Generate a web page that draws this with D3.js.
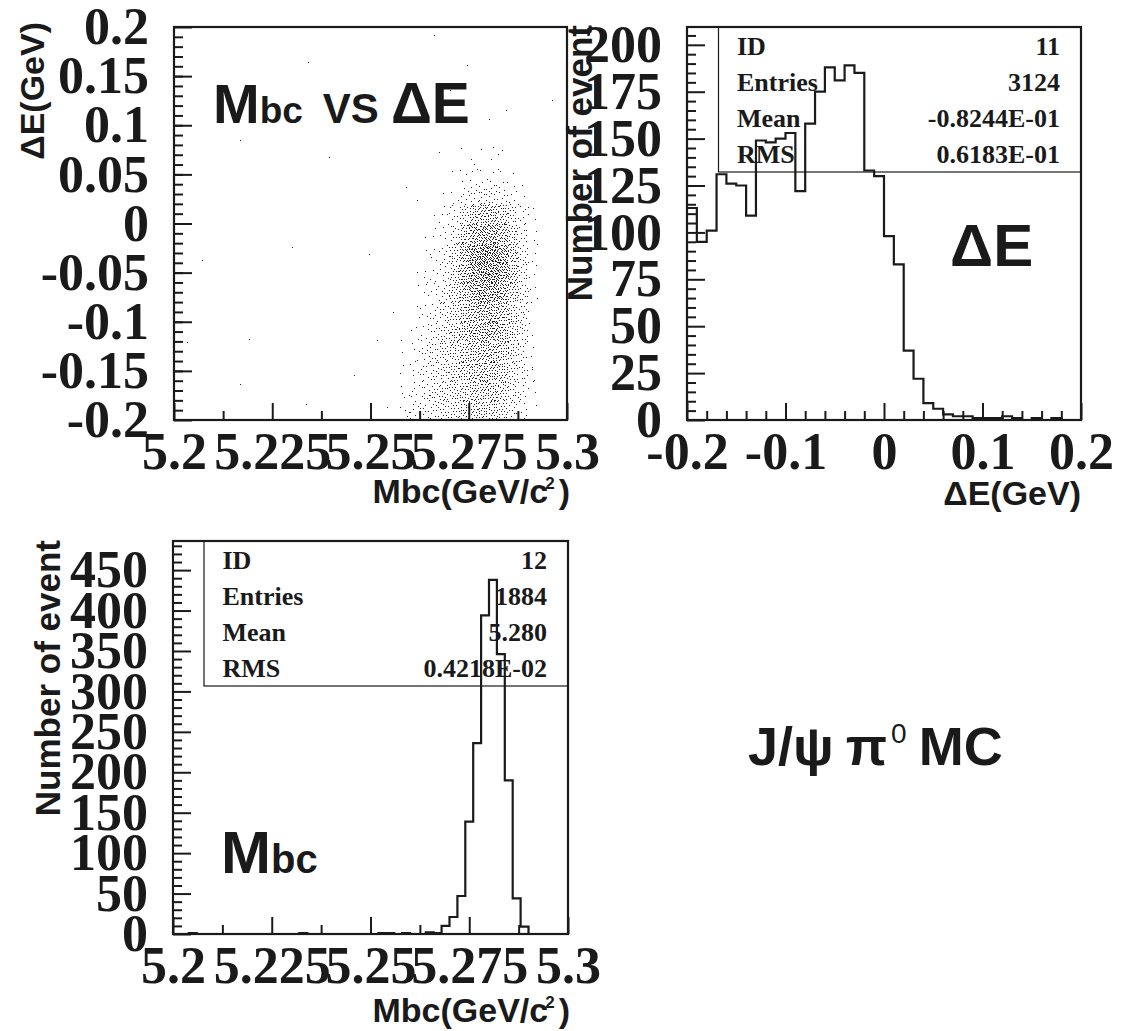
<!DOCTYPE html>
<html>
<head>
<script src="https://cdn.jsdelivr.net/npm/d3@7"></script>
<style>
  body { margin: 0; background: #fff; }
  svg { display: block; }
</style>
</head>
<body>
<div id="chart"></div>
<script>
// ---- data ----

// Delta E histogram, 40 bins of 0.01 from -0.2
var deBinStart = -0.2, deBinWidth = 0.01;
var deCounts = [113, 95, 101, 131, 126, 125, 109, 149, 148, 150,
                153, 122, 158, 175, 188, 181, 189, 185, 133, 130,
                98, 83, 37, 22, 9, 6, 3, 2, 2, 1,
                1, 1, 2, 1, 0, 1, 0, 1, 0, 0];
var deStats = ["11", "3124", "-0.8244E-01", "0.6183E-01"];

// Mbc histogram, 50 bins of 0.002 from 5.2
var mbcBinStart = 5.2, mbcBinWidth = 0.002;
var mbcCounts = [0, 0, 1, 0, 0, 0, 0, 0, 0, 0,
                 0, 0, 0, 0, 0, 0, 1, 0, 0, 0,
                 0, 0, 0, 0, 0, 0, 1, 1, 0, 1,
                 0, 0, 2, 1, 10, 21, 47, 139, 236, 394,
                 438, 346, 190, 44, 9, 0, 0, 0, 0, 0];
var mbcStats = ["12", "1884", "5.280", "0.4218E-02"];
var statLabels = ["ID", "Entries", "Mean", "RMS"];

// scatter: counts per cell, rows of 0.02 in Delta E (from -0.2 upward),
// columns of 0.0025 in Mbc from 5.2575
var scatDeStart = -0.2, scatDeStep = 0.02;
var scatMbcStart = 5.2575, scatMbcStep = 0.0025;
var scatGrid = [
  [4, 7, 10, 13, 16, 19, 22, 25, 27, 26, 20, 12, 6, 1],
  [3, 6, 10, 13, 17, 21, 25, 29, 31, 30, 23, 14, 8, 2],
  [2, 5, 9, 13, 17, 22, 28, 32, 35, 34, 26, 16, 10, 2],
  [1, 4, 8, 12, 17, 22, 28, 34, 37, 36, 28, 18, 11, 2],
  [1, 3, 6, 11, 17, 24, 33, 41, 45, 45, 35, 22, 13, 2],
  [0, 2, 4, 8, 14, 21, 31, 39, 43, 43, 34, 22, 12, 2],
  [0, 1, 3, 6, 12, 22, 36, 50, 57, 56, 45, 28, 14, 3],
  [0, 1, 2, 4, 10, 21, 40, 58, 68, 66, 51, 31, 14, 3],
  [0, 0, 1, 3, 8, 19, 40, 61, 71, 70, 53, 32, 13, 3],
  [0, 0, 1, 2, 5, 12, 27, 43, 51, 50, 38, 22, 10, 2],
  [0, 0, 0, 1, 3, 8, 18, 30, 36, 35, 26, 15, 7, 2],
  [0, 0, 0, 0, 1, 3, 6, 10, 12, 12, 8, 5, 2, 0],
  [0, 0, 0, 0, 0, 1, 2, 3, 3, 3, 2, 1, 0, 0],
  [0, 0, 0, 0, 0, 0, 1, 1, 1, 1, 1, 0, 0, 0]
];
// isolated events outside the core [Mbc, dE]
var scatOutliers = [
  [5.2661, 0.1915], [5.2342, 0.1644], [5.2745, 0.161], [5.2844, 0.1152],
  [5.2801, 0.1067], [5.2169, 0.0847], [5.2675, 0.0728], [5.2394, 0.0677],
  [5.2824, 0.071], [5.2764, 0.0609], [5.259, 0.0372], [5.2618, 0.024],
  [5.23, -0.0239], [5.2072, -0.0375], [5.2497, -0.0307], [5.2558, -0.09],
  [5.2192, -0.1173], [5.2516, -0.119], [5.2169, -0.163], [5.2459, -0.1545],
  [5.2337, -0.1834], [5.29, 0.0168], [5.289, -0.0917], [5.2963, 0.1254],
  [5.2703, 0.1356], [5.2543, -0.1868], [5.258, -0.173], [5.2599, -0.1919],
  [5.2033, -0.1206], [5.291, -0.146], [5.2812, 0.0779], [5.2744, 0.0507],
  [5.2847, 0.0419], [5.2694, 0.01], [5.2651, -0.0307], [5.2637, -0.0545]
];

// tick labels
var mbcTicks = [5.2, 5.225, 5.25, 5.275, 5.3];
var mbcTickLabels = ["5.2", "5.225", "5.25", "5.275", "5.3"];
var deTicksY = [-0.2, -0.15, -0.1, -0.05, 0, 0.05, 0.1, 0.15, 0.2];
var deTickLabelsY = ["-0.2", "-0.15", "-0.1", "-0.05", "0", "0.05", "0.1", "0.15", "0.2"];
var deTicksX = [-0.2, -0.1, 0, 0.1, 0.2];
var deTickLabelsX = ["-0.2", "-0.1", "0", "0.1", "0.2"];
var deCountTicks = [0, 25, 50, 75, 100, 125, 150, 175, 200];
var mbcCountTicks = [0, 50, 100, 150, 200, 250, 300, 350, 400, 450];

// ---- drawing ----
var serif = '"Liberation Serif", "Times New Roman", serif';
var sans = '"Liberation Sans", Arial, Helvetica, sans-serif';
var ink = "#1a1a1a";

var svg = d3.select("#chart").append("svg")
  .attr("width", 1130)
  .attr("height", 1031);
svg.append("rect").attr("width", 1130).attr("height", 1031).attr("fill", "#fff");

function axes(x, y, o) {
  var g = svg.append("g");
  var bottom = y.range()[0], left = x.range()[0];

  function style(sel) {
    sel.select(".domain").remove();
    sel.selectAll(".tick line").attr("stroke", ink).attr("stroke-width", 2);
    sel.attr("font-family", serif).attr("font-size", 52).attr("font-weight", "bold");
    sel.selectAll(".tick text").attr("fill", ink);
  }

  g.append("g").attr("transform", "translate(0," + bottom + ")")
    .call(d3.axisBottom(x).tickValues(o.xMinor).tickSize(-9).tickFormat(""))
    .call(style);
  g.append("g").attr("transform", "translate(0," + bottom + ")")
    .call(d3.axisBottom(x).tickValues(o.xTicks).tickSize(-17).tickPadding(12)
      .tickFormat(function (d, i) { return o.xLabels[i]; }))
    .call(style);
  g.append("g").attr("transform", "translate(" + left + ",0)")
    .call(d3.axisLeft(y).tickValues(o.yMinor).tickSize(-9).tickFormat(""))
    .call(style);
  g.append("g").attr("transform", "translate(" + left + ",0)")
    .call(d3.axisLeft(y).tickValues(o.yTicks).tickSize(-18).tickPadding(25)
      .tickFormat(function (d, i) { return o.yLabels[i]; }))
    .call(style);

  svg.append("rect")
    .attr("x", x.range()[0]).attr("y", y.range()[1])
    .attr("width", x.range()[1] - x.range()[0])
    .attr("height", y.range()[0] - y.range()[1])
    .attr("fill", "none").attr("stroke", ink).attr("stroke-width", 2.2);
}

function statsBox(x0, x1, top, values) {
  svg.append("rect")
    .attr("x", x0).attr("y", top).attr("width", x1 - x0).attr("height", 145)
    .attr("fill", "none").attr("stroke", ink).attr("stroke-width", 1.2);
  statLabels.forEach(function (lab, i) {
    var yy = top + 28 + i * 36;
    svg.append("text").attr("x", x0 + 18.5).attr("y", yy).text(lab)
      .attr("font-family", serif).attr("font-weight", "bold").attr("font-size", 26).attr("fill", ink);
    svg.append("text").attr("x", x1 - 21).attr("y", yy).text(values[i])
      .attr("text-anchor", "end")
      .attr("font-family", serif).attr("font-weight", "bold").attr("font-size", 26).attr("fill", ink);
  });
}

function histPath(x, y, start, width, counts) {
  var pts = counts.map(function (c, i) { return [start + i * width, c]; });
  pts.push([start + counts.length * width, counts[counts.length - 1]]);
  var line = d3.line()
    .x(function (d) { return x(d[0]); })
    .y(function (d) { return y(d[1]); })
    .curve(d3.curveStepAfter);
  svg.append("path").attr("d", line(pts))
    .attr("fill", "none").attr("stroke", ink).attr("stroke-width", 2.2);
}

function title(txt, xx, yy, rotate, size) {
  var t = svg.append("text")
    .attr("font-family", sans).attr("font-weight", "bold")
    .attr("font-size", size || 34).attr("fill", ink)
    .attr("text-anchor", "end");
  if (rotate) t.attr("transform", "translate(" + xx + "," + yy + ") rotate(-90)");
  else t.attr("x", xx).attr("y", yy);
  if (txt) t.text(txt);
  return t;
}

function mbcTitle(xx, yy) {
  var t = title("", xx, yy);
  t.append("tspan").text("Mbc(GeV/c");
  t.append("tspan").text("2").attr("font-size", 17).attr("dy", -14).attr("dx", -3);
  t.append("tspan").text(")").attr("dy", 14).attr("dx", 4);
}

// ---- panel 1: scatter Mbc vs dE ----
var x1 = d3.scaleLinear().domain([5.2, 5.3]).range([174, 567]);
var y1 = d3.scaleLinear().domain([-0.2, 0.2]).range([420, 27]);

var pts = [];
scatGrid.forEach(function (row, r) {
  row.forEach(function (n, c) {
    // spread the n events of a cell evenly (R2 low-discrepancy layout)
    var seed = r * 131 + c * 57;
    for (var k = 0; k < n; k++) {
      var u = (0.5 + (k + seed) * 0.7548776662) % 1;
      var v = (0.5 + (k + seed) * 0.5698402910) % 1;
      pts.push([scatMbcStart + (c + u) * scatMbcStep, scatDeStart + (r + v) * scatDeStep]);
    }
  });
});
pts = pts.concat(scatOutliers);

svg.append("g").attr("shape-rendering", "crispEdges")
  .selectAll("rect").data(pts).enter().append("rect")
  .attr("x", function (d) { return Math.round(x1(d[0])); })
  .attr("y", function (d) { return Math.round(y1(d[1])); })
  .attr("width", 1).attr("height", 1)
  .attr("fill", "#222");

axes(x1, y1, {
  xTicks: mbcTicks, xLabels: mbcTickLabels, xMinor: [5.2125, 5.2375, 5.2625, 5.2875],
  yTicks: deTicksY, yLabels: deTickLabelsY,
  yMinor: d3.range(-19, 20).map(function (i) { return i / 100; })
});
mbcTitle(570, 503);
title("ΔE(GeV)", 44, 22, true);

var lab1 = svg.append("text").attr("x", 213).attr("y", 123)
  .attr("font-family", sans).attr("font-weight", "bold").attr("fill", ink);
lab1.append("tspan").text("M").attr("font-size", 56);
lab1.append("tspan").text("bc").attr("font-size", 37);
lab1.append("tspan").text("VS").attr("font-size", 42).attr("dx", 20);
lab1.append("tspan").text("ΔE").attr("font-size", 57).attr("dx", 12);

// ---- panel 2: dE histogram ----
var x2 = d3.scaleLinear().domain([-0.2, 0.2]).range([687, 1081]);
var y2 = d3.scaleLinear().domain([0, 209.5]).range([420, 27]);

statsBox(718.5, 1081, 27, deStats);
histPath(x2, y2, deBinStart, deBinWidth, deCounts);
axes(x2, y2, {
  xTicks: deTicksX, xLabels: deTickLabelsX,
  xMinor: d3.range(-9, 10).filter(function (i) { return i % 5 !== 0; }).map(function (i) { return i / 50; }),
  yTicks: deCountTicks, yLabels: deCountTicks.map(String),
  yMinor: d3.range(0, 42).map(function (i) { return i * 5; }).filter(function (v) { return v % 25 !== 0; })
});
title("ΔE(GeV)", 1081, 505);
title("Number of event", 592, 25, true, 35);
svg.append("text").attr("x", 950).attr("y", 266).text("ΔE")
  .attr("font-family", sans).attr("font-weight", "bold").attr("font-size", 60).attr("fill", ink);

// ---- panel 3: Mbc histogram ----
var x3 = d3.scaleLinear().domain([5.2, 5.3]).range([173, 568]);
var y3 = d3.scaleLinear().domain([0, 486]).range([934, 541]);

statsBox(204, 568, 541, mbcStats);
histPath(x3, y3, mbcBinStart, mbcBinWidth, mbcCounts);
axes(x3, y3, {
  xTicks: mbcTicks, xLabels: mbcTickLabels, xMinor: [5.2125, 5.2375, 5.2625, 5.2875],
  yTicks: mbcCountTicks, yLabels: mbcCountTicks.map(String),
  yMinor: d3.range(1, 49).map(function (i) { return i * 10; }).filter(function (v) { return v % 50 !== 0; })
});
mbcTitle(570, 1022);
title("Number of event", 60, 540, true, 35);

var lab3 = svg.append("text").attr("x", 221).attr("y", 873)
  .attr("font-family", sans).attr("font-weight", "bold").attr("fill", ink);
lab3.append("tspan").text("M").attr("font-size", 60);
lab3.append("tspan").text("bc").attr("font-size", 40);

// ---- sample label ----
var jp = svg.append("text").attr("x", 748).attr("y", 765)
  .attr("font-family", sans).attr("font-size", 54).attr("fill", ink);
jp.append("tspan").text("J/").attr("font-weight", "bold");
jp.append("tspan").text("ψ").attr("font-weight", "bold");
jp.append("tspan").text("π").attr("dx", 12).attr("font-weight", "bold");
jp.append("tspan").text("0").attr("font-size", 28).attr("dy", -22).attr("dx", 4);
jp.append("tspan").text("MC").attr("font-weight", "bold").attr("dy", 22).attr("dx", 12);
</script>
</body>
</html>
